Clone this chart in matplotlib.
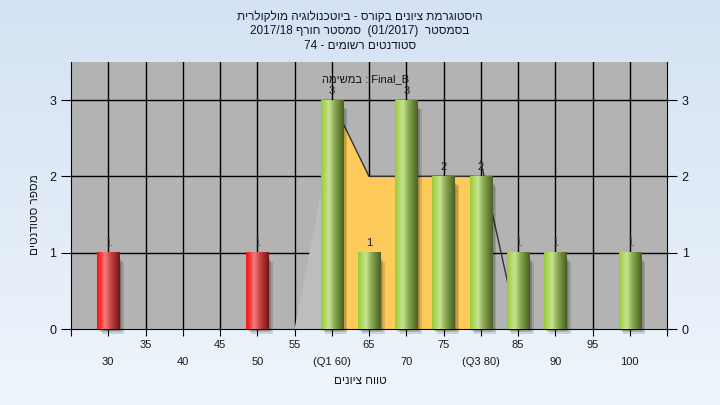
import numpy as np
import matplotlib.pyplot as plt
from matplotlib.colors import LinearSegmentedColormap
from matplotlib.patches import Rectangle, Polygon

# נתוני ההיסטוגרמה
grades = [30, 50, 60, 65, 70, 75, 80, 85, 90, 100]
counts = [1, 1, 3, 1, 3, 2, 2, 1, 1, 1]
fail_limit = 55
tick_pos = list(range(30, 105, 5))
tick_text = {60: '(Q1 60)', 80: '(Q3 80)'}
# צורת השטח (רבעונים)
area_x = [60, 65, 79, 79, 60]
area_y = [3, 2, 2, 0, 0]
left_x = [55, 60, 60]
left_y = [0, 2.5, 0]
right_x = [80, 85]
right_y = [2.2, 0]

title_lines = ['היסטוגרמת ציונים בקורס - ביוטכנולוגיה מולקולרית',
               'בסמסטר  (01/2017)  סמסטר חורף 2017/18',
               'סטודנטים רשומים - 74']
xlabel = 'טווח ציונים'
ylabel = 'מספר סטודנטים'
task = 'במשימה'


def rtl(s):
    """מחזיר את המחרוזת בסדר תצוגה (matplotlib לא מטפל בכיווניות)"""
    out = []
    for w in reversed(s.split(' ')):
        if any('\u0590' <= c <= '\u05ff' for c in w):
            out.append(w[::-1])
        else:
            out.append(w)
    return ' '.join(out)


plt.rcParams['font.family'] = ['Liberation Sans', 'DejaVu Sans']

fig = plt.figure(figsize=(7.2, 4.05), dpi=100)

# רקע מדורג לכל התמונה
bg = fig.add_axes([0, 0, 1, 1], zorder=-10)
bg.imshow(np.linspace(0, 1, 256).reshape(-1, 1),
          cmap=LinearSegmentedColormap.from_list('bg', ['#d4e2f3', '#eef5fc']),
          aspect='auto', extent=(0, 1, 0, 1))
bg.axis('off')

ax = fig.add_axes([71 / 720, 1 - 329 / 405, 596 / 720, 267 / 405])
ax.set_facecolor('#b3b3b3')

# קווי רשת
for x in tick_pos:
    ax.axvline(x, color='black', lw=1, zorder=1)
for y in [1, 2, 3]:
    ax.axhline(y, color='black', lw=1, zorder=1)

# שטח הרבעונים
ax.add_patch(Polygon(list(zip(left_x, left_y)), closed=True, facecolor='#bdbdbd',
                     edgecolor='none', zorder=2))
ax.add_patch(Polygon(list(zip(area_x, area_y)), closed=True, facecolor='#fecb5a',
                     edgecolor='none', zorder=2))
ax.plot(area_x[:3], area_y[:3], color='#333333', lw=1, zorder=2)
ax.plot(right_x, right_y, color='#333333', lw=1, zorder=2)

red = LinearSegmentedColormap.from_list('red', [(0, '#e81818'), (0.15, '#ff3030'), (0.35, '#f47c7c'),
                                                (0.6, '#c84444'), (1, '#741414')])
green = LinearSegmentedColormap.from_list('green', [(0, '#98ca38'), (0.2, '#b4da66'), (0.35, '#c8e296'),
                                                    (0.6, '#88a84e'), (1, '#485f22')])
grad = np.linspace(0, 1, 256).reshape(1, -1)
w = 3.0
for g, c in zip(grades, counts):
    # צל
    for k, off in enumerate([0.2, 0.4, 0.6]):
        ax.add_patch(Rectangle((g - w / 2 + off, -0.02 * (k + 1)), w, c - 0.06, facecolor='black',
                               alpha=0.13, edgecolor='none', zorder=3, clip_on=False))
    cmap = red if g < fail_limit else green
    ax.imshow(grad, cmap=cmap, extent=(g - w / 2, g + w / 2, 0, c), aspect='auto', zorder=4)
    faint = c == 1 and g != 65
    ax.text(g, c + 0.06, str(c), ha='center', va='bottom', fontsize=8,
            color='#5a5a66' if faint else '#1a1a30', zorder=5)

ax.text(64.5, 3.28, rtl(task) + ' : Final_B', ha='center', va='center', fontsize=8,
        color='#1a0a20', zorder=5)

ax.set_xlim(25, 105)
ax.set_ylim(0, 3.5)
ax.set_xticks(range(25, 110, 5))
ax.set_xticklabels([])
ax.set_yticks([0, 1, 2, 3])
ax.tick_params(axis='x', length=5, color='black')
ax.tick_params(axis='y', length=7, labelsize=9, labelcolor='#101030', right=True, labelright=True)
ax.spines['top'].set_visible(False)
for s in ['left', 'right', 'bottom']:
    ax.spines[s].set_color('black')

# תוויות ציר X בשתי שורות
for i, x in enumerate(tick_pos):
    off = -11.5 if i % 2 else -23.8
    ax.annotate(tick_text.get(x, str(x)), xy=(x, 0), xycoords=('data', 'axes fraction'),
                xytext=(0, off), textcoords='offset points', ha='center', va='center',
                fontsize=8, color='#1a1a1a', annotation_clip=False)

fig.text(360 / 720, 1 - 381 / 405, rtl(xlabel), ha='center', va='center', fontsize=8.5, color='#1a1a1a')
fig.text(35 / 720, 1 - 215 / 405, rtl(ylabel), ha='center', va='center', rotation=90,
         fontsize=8.5, color='#1a1a1a')

for line, y in zip(title_lines, [17, 31, 46]):
    fig.text(360 / 720, 1 - y / 405, rtl(line), ha='center', va='center', fontsize=8.5,
             color='#141428')

fig.savefig('out.png', dpi=100)
